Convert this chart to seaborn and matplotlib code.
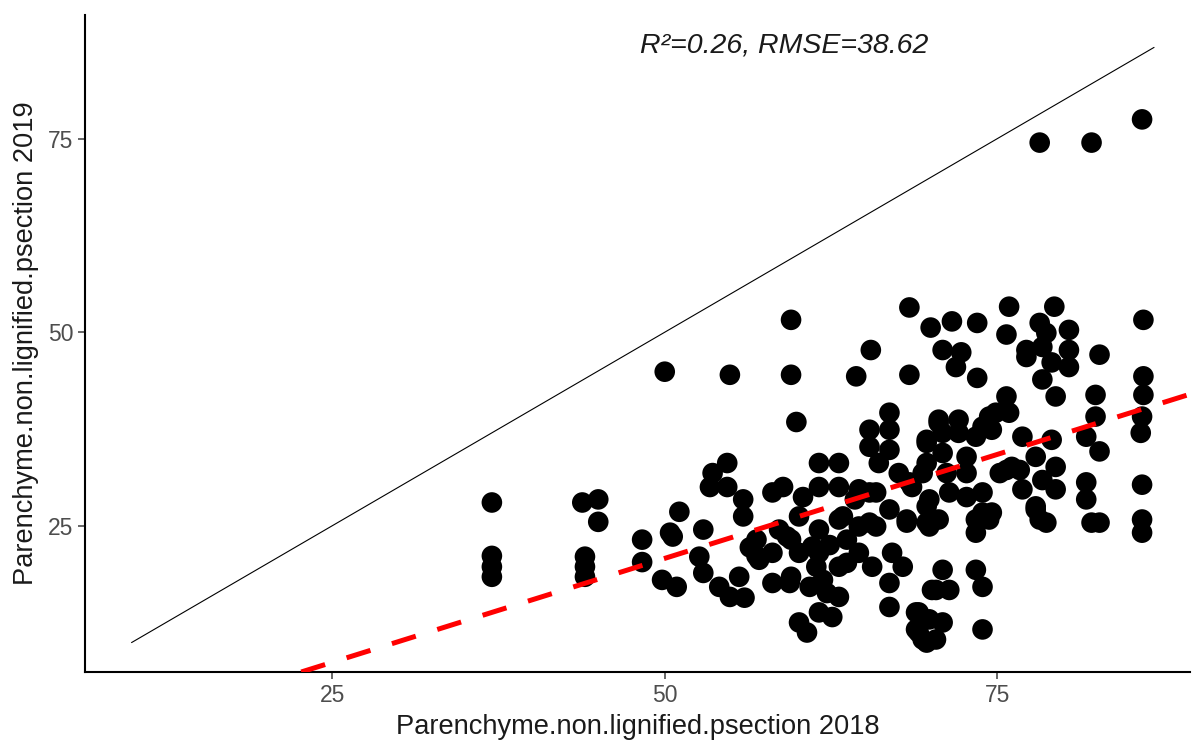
import numpy as np
import pandas as pd
import matplotlib
matplotlib.use("Agg")
import matplotlib.pyplot as plt
import seaborn as sns

# values
x2018 = [37.0, 37.0, 37.0, 37.0, 43.8, 45.0, 45.0, 44.0, 44.0, 44.0,
         48.3, 48.3, 50.0, 50.4, 49.8, 50.9, 51.1, 50.6, 52.9, 52.6,
         52.9, 54.1, 54.9, 53.6, 54.7, 53.4, 54.7, 55.9, 55.9, 56.9,
         57.1, 55.6, 54.9, 59.5, 59.5, 64.4, 59.9, 58.1, 58.9, 61.6,
         63.1, 61.6, 63.1, 60.4, 60.1, 61.6, 63.4, 58.6, 58.1, 58.1,
         59.5, 60.9, 62.2, 63.1, 61.6, 62.6, 60.1, 60.7, 63.7, 63.7,
         60.1, 61.4, 63.1, 59.5, 61.1, 66.9, 65.4, 66.9, 65.4, 66.9,
         66.1, 67.6, 68.6, 64.6, 65.9, 66.9, 68.2, 63.1, 64.6, 65.9,
         59.2, 61.6, 62.4, 64.6, 65.6, 67.1, 67.9, 66.9, 66.9, 59.4,
         61.9, 69.1, 69.1, 69.7, 69.7, 69.7, 68.4, 70.0, 71.6, 73.5,
         75.9, 75.7, 77.2, 70.9, 72.3, 71.9, 73.5, 68.4, 75.7, 75.9,
         74.4, 70.6, 72.1, 69.7, 70.9, 72.1, 73.4, 74.6, 76.9, 70.9,
         72.7, 69.4, 71.2, 72.7, 75.7, 76.7, 68.4, 69.9, 71.4, 72.7,
         73.9, 74.6, 73.4, 73.4, 68.2, 69.7, 70.6, 76.9, 70.9, 73.4,
         73.9, 70.4, 71.4, 68.9, 68.9, 69.9, 70.9, 69.4, 70.4, 73.9,
         79.3, 78.2, 78.7, 80.4, 77.2, 78.4, 80.4, 79.1, 80.4, 78.4,
         79.4, 82.7, 86.0, 86.0, 86.0, 85.9, 85.8, 82.4, 82.4, 81.7,
         82.7, 79.1, 77.9, 76.1, 79.4, 78.4, 79.4, 77.9, 78.7, 81.7,
         81.7, 82.1, 82.7, 85.9, 85.9, 85.9, 78.2, 82.1, 85.9, 75.2,
         56.9, 56.0, 65.5, 65.4, 64.3, 65.4, 77.9, 78.2, 73.9, 74.4,
         69.9, 74.9, 73.9, 70.6, 70.1, 69.7, 56.4]
y2019 = [28.0, 21.1, 19.7, 18.4, 28.0, 28.4, 25.5, 21.0, 19.7, 18.4,
         23.2, 20.3, 44.9, 24.1, 18.0, 17.1, 26.8, 23.6, 24.5, 21.0,
         18.9, 17.1, 15.8, 31.8, 33.1, 30.0, 30.0, 28.4, 26.2, 23.2,
         20.6, 18.4, 44.5, 51.6, 44.5, 44.3, 38.4, 29.3, 30.0, 33.1,
         33.1, 30.0, 30.0, 28.7, 26.2, 24.5, 26.2, 24.5, 21.5, 17.6,
         18.4, 17.1, 16.3, 15.8, 13.8, 13.2, 12.5, 11.2, 23.2, 20.2,
         21.5, 19.7, 19.7, 23.2, 22.3, 39.6, 37.4, 37.4, 35.2, 34.8,
         33.1, 31.8, 30.0, 29.7, 29.3, 27.1, 25.4, 25.8, 24.9, 24.9,
         23.6, 21.5, 22.5, 21.5, 19.7, 21.5, 19.7, 17.6, 14.5, 17.6,
         18.0, 13.8, 11.2, 35.7, 33.1, 27.5, 53.2, 50.6, 51.4, 51.2,
         53.3, 49.7, 46.8, 47.7, 47.4, 45.5, 44.1, 44.5, 41.7, 39.6,
         39.1, 38.7, 38.7, 36.1, 37.0, 37.0, 36.5, 37.4, 36.5, 34.4,
         33.9, 31.8, 31.8, 31.8, 32.2, 32.2, 30.6, 28.4, 29.3, 28.7,
         29.3, 26.7, 25.8, 24.1, 25.8, 25.4, 25.8, 29.7, 19.3, 19.3,
         17.1, 16.7, 16.7, 13.8, 11.6, 12.9, 12.5, 10.3, 10.3, 11.6,
         53.3, 51.2, 49.9, 50.3, 47.7, 48.1, 47.7, 46.1, 45.5, 43.9,
         41.7, 47.1, 51.6, 44.3, 41.9, 39.1, 37.0, 41.9, 39.1, 36.5,
         34.6, 36.1, 33.9, 32.6, 32.6, 30.9, 29.7, 27.1, 25.4, 30.6,
         28.4, 25.4, 25.4, 30.3, 25.8, 24.1, 74.5, 74.5, 77.5, 31.8,
         21.1, 15.7, 47.7, 29.3, 28.4, 25.4, 27.5, 25.8, 26.7, 25.8,
         24.9, 39.6, 37.8, 38.3, 16.7, 9.9, 22.2]

# fitted line coefficients as drawn in the reference
fit_slope = 0.537
fit_intercept = -6.07

stats_text = "R²=0.26, RMSE=38.62"
xlabel = "Parenchyme.non.lignified.psection 2018"
ylabel = "Parenchyme.non.lignified.psection 2019"

df = pd.DataFrame({"x": x2018, "y": y2019})

sns.set_style("ticks")
plt.rcParams["font.family"] = ["Liberation Sans", "DejaVu Sans"]

fig = plt.figure(figsize=(11.94, 7.45), dpi=100)
ax = fig.add_axes([0.0712, 0.098, 0.9254, 0.882])

sns.scatterplot(data=df, x="x", y="y", ax=ax, color="black", s=220,
                edgecolor="none", linewidth=0, zorder=2)

# identity line over the data range
lo = min(df.x.min(), df.y.min())
hi = max(df.x.max(), df.y.max()) + 0.8
ax.plot([lo, hi], [lo, hi], color="black", lw=0.8, zorder=1)

# linear fit, drawn across the whole panel
ax.axline((0, fit_intercept), slope=fit_slope, color="red", lw=3.6,
          dashes=(5, 4.5), zorder=3)

ax.text(59.0, 87.0, stats_text, style="italic", fontsize=20.5,
        color="#1a1a1a", ha="center", va="center")

ax.set_xlim(6.4, 89.5)
ax.set_ylim(6.1, 91)
ax.set_xticks([25, 50, 75])
ax.set_yticks([25, 50, 75])
ax.tick_params(colors="#4d4d4d", labelsize=16.5, length=5, width=1.2)
ax.set_xlabel(xlabel, fontsize=19.6, color="#1a1a1a", labelpad=5)
ax.set_ylabel(ylabel, fontsize=19.6, color="#1a1a1a", labelpad=6)
sns.despine(ax=ax)
for sp in ["left", "bottom"]:
    ax.spines[sp].set_linewidth(1.5)
    ax.spines[sp].set_color("black")

fig.savefig("out.png", dpi=100)
